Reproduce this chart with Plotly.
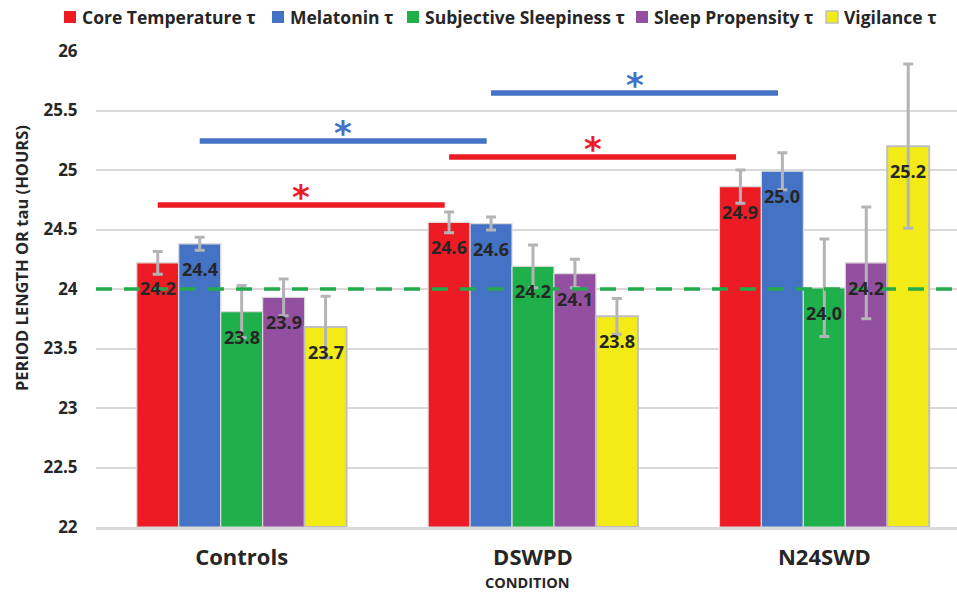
import plotly.graph_objects as go

categories = ["Controls", "DSWPD", "N24SWD"]
series_names = ["Core Temperature τ", "Melatonin τ", "Subjective Sleepiness τ",
                "Sleep Propensity τ", "Vigilance τ"]
series_colors = ["#ED1C24", "#4472C4", "#1FB04B", "#9450A0", "#F3EB16"]

core_temp = [24.22, 24.56, 24.86]
melatonin = [24.38, 24.55, 24.99]
subj_sleepiness = [23.81, 24.19, 24.01]
sleep_propensity = [23.93, 24.13, 24.22]
vigilance = [23.68, 23.77, 25.20]

core_temp_err = [0.095, 0.087, 0.14]
melatonin_err = [0.055, 0.055, 0.155]
subj_sleepiness_err = [0.22, 0.18, 0.41]
sleep_propensity_err = [0.155, 0.12, 0.47]
vigilance_err = [0.26, 0.15, 0.69]

series_values = [core_temp, melatonin, subj_sleepiness, sleep_propensity, vigilance]
series_errors = [core_temp_err, melatonin_err, subj_sleepiness_err, sleep_propensity_err, vigilance_err]

y_ticks = [22, 22.5, 23, 23.5, 24, 24.5, 25, 25.5, 26]
reference_tau = 24

# significance comparisons: (series index, from category, to category, bar level)
comparisons = [(0, 0, 1, 24.706), (1, 0, 1, 25.244), (0, 1, 2, 25.109), (1, 1, 2, 25.647)]

# legend entry left edges (px) in the picture
legend_x = [64, 272, 407, 636, 826]

FONT = "Open Sans"
TXT = "#262626"
W, H = 957, 592
ML, MR, MT, MB = 96, 0, 51, 65
PW, PH = W - ML - MR, H - MT - MB
bargap = 0.28
n = len(series_names)
bw = (1 - bargap) / n
x_idx = list(range(len(categories)))


def px_to_paper(px, py):
    return (px - ML) / PW, (H - MB - py) / PH


fig = go.Figure()
for i, (name, vals, errs, col) in enumerate(zip(series_names, series_values, series_errors, series_colors)):
    fig.add_trace(go.Bar(
        x=x_idx, y=[v - 22 for v in vals], base=22, name=name, showlegend=False,
        marker=dict(color=col,
                    line=dict(color="#BFBFBF" if i == 4 else "#DADADA", width=2 if i == 4 else 1.2)),
        error_y=dict(type="data", array=errs, color="#B4B4B8", thickness=3, width=5),
    ))

annotations = []
shapes = []

# value labels
for i, vals in enumerate(series_values):
    off = (i - (n - 1) / 2) * bw
    for j, v in enumerate(vals):
        annotations.append(dict(x=j + off, y=v, xref="x", yref="y", text=f"<b>{v:.1f}</b>",
                                showarrow=False, yshift=-25, yanchor="middle",
                                font=dict(family=FONT, size=18, color=TXT)))

# 24 h reference line
shapes.append(dict(type="line", xref="paper", yref="y", x0=0, x1=1, y0=reference_tau, y1=reference_tau,
                   line=dict(color="#22AA4B", width=3.5, dash="16px,12px"), layer="above"))

# significance bars
for si, c0, c1, lvl in comparisons:
    off = (si - (n - 1) / 2) * bw
    xs = c0 + off
    xe = c1 + off - 0.015
    shapes.append(dict(type="line", xref="x", yref="y", x0=xs, x1=xe, y0=lvl, y1=lvl,
                       line=dict(color=series_colors[si], width=5.5), layer="above"))
    annotations.append(dict(x=(xs + xe) / 2, y=lvl, xref="x", yref="y", text="<b>*</b>",
                            showarrow=False, yshift=8, yanchor="middle",
                            font=dict(family="DejaVu Sans", size=34, color=series_colors[si])))

# legend (drawn)
for i, (name, col) in enumerate(zip(series_names, series_colors)):
    x0, y0 = px_to_paper(legend_x[i], 11)
    x1, y1 = px_to_paper(legend_x[i] + 12, 23)
    shapes.append(dict(type="rect", xref="paper", yref="paper", x0=x0, x1=x1, y0=y1, y1=y0,
                       fillcolor=col, line=dict(color="#BFBFBF" if i == 4 else col, width=1.5 if i == 4 else 0)))
    lx, ly = px_to_paper(legend_x[i] + 16, 17)
    annotations.append(dict(x=lx, y=ly, xref="paper", yref="paper", text=f"<b>{name}</b>",
                            showarrow=False, xanchor="left", yanchor="middle",
                            font=dict(family=FONT, size=17.5, color=TXT)))

tx, ty = px_to_paper(21, 258)
annotations.append(dict(x=tx, y=ty, xref="paper", yref="paper",
                        text="<b>PERIOD LENGTH OR tau (HOURS)</b>", textangle=-90, showarrow=False,
                        xanchor="center", yanchor="middle",
                        font=dict(family=FONT, size=16.5, color=TXT)))
cx, cy = px_to_paper(527, 582)
annotations.append(dict(x=cx, y=cy, xref="paper", yref="paper",
                        text="<b>CONDITION</b>", showarrow=False, xanchor="center", yanchor="middle",
                        font=dict(family=FONT, size=14.5, color=TXT)))

fig.update_layout(
    width=W, height=H,
    margin=dict(l=ML, r=MR, t=MT, b=MB),
    paper_bgcolor="white", plot_bgcolor="white",
    barmode="group", bargap=bargap, bargroupgap=0,
    showlegend=False,
    xaxis=dict(range=[-0.5, 2.5 - 13 / 291.5], tickvals=x_idx,
               ticktext=[f"<b>{c}</b>" for c in categories],
               tickfont=dict(family=FONT, size=22, color=TXT),
               ticks="outside", ticklen=9, tickcolor="rgba(0,0,0,0)",
               showgrid=False, showline=True, linecolor="#D9D9D9", linewidth=3, zeroline=False),
    yaxis=dict(range=[22, 26], tickvals=y_ticks, ticktext=[f"<b>{t:g}</b>" for t in y_ticks],
               tickfont=dict(family=FONT, size=17, color=TXT),
               ticks="outside", ticklen=14, tickcolor="rgba(0,0,0,0)",
               showgrid=True, gridcolor="#D9D9D9", gridwidth=1.5, zeroline=False),
    annotations=annotations, shapes=shapes,
)

fig.write_html("out.html", config={"displayModeBar": False},
               post_script="document.body.style.margin='0px';document.body.style.overflow='hidden';")
